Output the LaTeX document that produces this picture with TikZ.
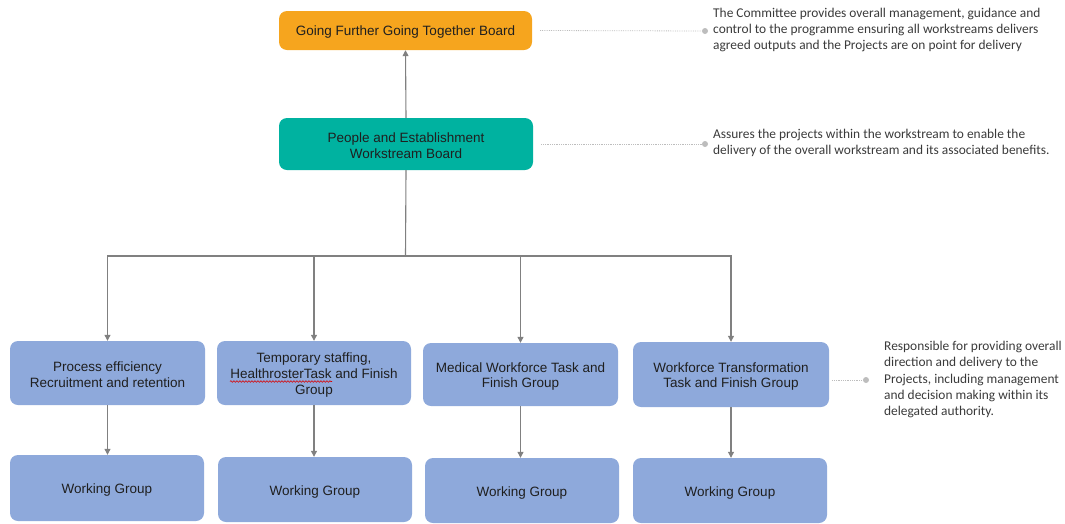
\documentclass[tikz,border=0pt]{standalone}
\usepackage{fontspec}
\setmainfont{Liberation Sans}
\newfontfamily\notefont{Carlito}
\usetikzlibrary{arrows.meta,decorations.pathmorphing}
\definecolor{boardorange}{HTML}{F6A51E}
\definecolor{boardteal}{HTML}{00B2A0}
\definecolor{groupblue}{HTML}{8EA9DB}
\definecolor{linkgray}{HTML}{808080}
\definecolor{dotgray}{HTML}{BDBDBD}
\definecolor{notegray}{HTML}{3A3A3A}
\definecolor{boxtext}{HTML}{1F1F1F}
\tikzset{
  box/.style={rounded corners=8pt, inner sep=0pt},
  boxlabel/.style={align=center, text=boxtext, inner sep=0pt, yshift=-2pt,
    font=\fontsize{13.5}{16}\selectfont},
  groupbox/.style={box, fill=groupblue},
  conn/.style={draw=linkgray, line width=1.1pt, -{Triangle[length=6pt,width=6pt]}},
  bus/.style={draw=linkgray, line width=1.1pt},
  leader/.style={draw=dotgray, line width=0.8pt, densely dotted},
  leaddot/.style={circle, fill=dotgray, inner sep=0pt, minimum size=6pt},
  note/.style={anchor=west, align=left, inner sep=0pt, text=notegray,
    font=\notefont\fontsize{13.4}{16.2}\selectfont}
}
\begin{document}
\begin{tikzpicture}[x=1pt,y=-1pt]
\useasboundingbox (0,0) rectangle (1065,523);

% boards
\node[box, fill=boardorange, minimum width=253pt, minimum height=39pt,
  label={[boxlabel]center:Going Further Going Together Board}] (gf) at (405.5,30.5) {};
\node[box, fill=boardteal, minimum width=254pt, minimum height=52pt,
  label={[boxlabel]center:People and Establishment\\Workstream Board}] (pe) at (406,144) {};

% task and finish groups
\node[groupbox, minimum width=195pt, minimum height=64pt,
  label={[boxlabel]center:Process efficiency\\Recruitment and retention}] (b1) at (107.5,373) {};
\node[groupbox, minimum width=194pt, minimum height=64pt,
  label={[boxlabel]center:Temporary staffing,\\HealthrosterTask and Finish\\Group}] (b2) at (314,373) {};
\node[groupbox, minimum width=195pt, minimum height=63pt,
  label={[boxlabel]center:Medical Workforce Task and\\Finish Group}] (b3) at (520.5,374.5) {};
\node[groupbox, minimum width=196pt, minimum height=65pt,
  label={[boxlabel]center:Workforce Transformation\\Task and Finish Group}] (b4) at (731,374.5) {};

% working groups
\node[groupbox, minimum width=194pt, minimum height=66pt,
  label={[boxlabel]center:Working Group}] (w1) at (107,488) {};
\node[groupbox, minimum width=194pt, minimum height=65pt,
  label={[boxlabel]center:Working Group}] (w2) at (315,489.5) {};
\node[groupbox, minimum width=194pt, minimum height=65pt,
  label={[boxlabel]center:Working Group}] (w3) at (522,490.5) {};
\node[groupbox, minimum width=194pt, minimum height=65pt,
  label={[boxlabel]center:Working Group}] (w4) at (730,490.5) {};

% spell-check underline under "Healthroster"
\draw[red!85!black, line width=0.6pt, decorate,
  decoration={snake, amplitude=0.8pt, segment length=3pt}] (230,381.5) -- (332,381.5);

% reporting lines
\draw[conn] (pe.north) -- (gf.south);
\coordinate (split) at (405.5,256);
\draw[bus] (pe.south) -- (split);
\foreach \b in {b1,b2,b3,b4}
  \draw[conn] (split) -| (\b.north);
\foreach \b/\w in {b1/w1,b2/w2,b3/w3,b4/w4}
  \draw[conn] (\b.south) -- (\b.south |- \w.north);

% notes with dotted leaders
\node[leaddot] (d1) at (705,31) {};
\node[leaddot] (d2) at (705,144) {};
\node[leaddot] (d3) at (866,380) {};
\draw[leader] (gf.east) ++(8,0) -- (d1);
\draw[leader] (pe.east) ++(8,0) -- (d2);
\draw[leader] (b4.east |- d3) ++(3,0) -- (d3);

\node[note] (n1) at (713,30) {The Committee provides overall management, guidance and\\
  control to the programme ensuring all workstreams delivers\\
  agreed outputs and the Projects are on point for delivery};
\node[note] (n2) at (713,143) {Assures the projects within the workstream to enable the\\
  delivery of the overall workstream and its associated benefits.};
\node[note] (n3) at (884,379.5) {Responsible for providing overall\\
  direction and delivery to the\\
  Projects, including management\\
  and decision making within its\\
  delegated authority.};
\end{tikzpicture}
\end{document}
